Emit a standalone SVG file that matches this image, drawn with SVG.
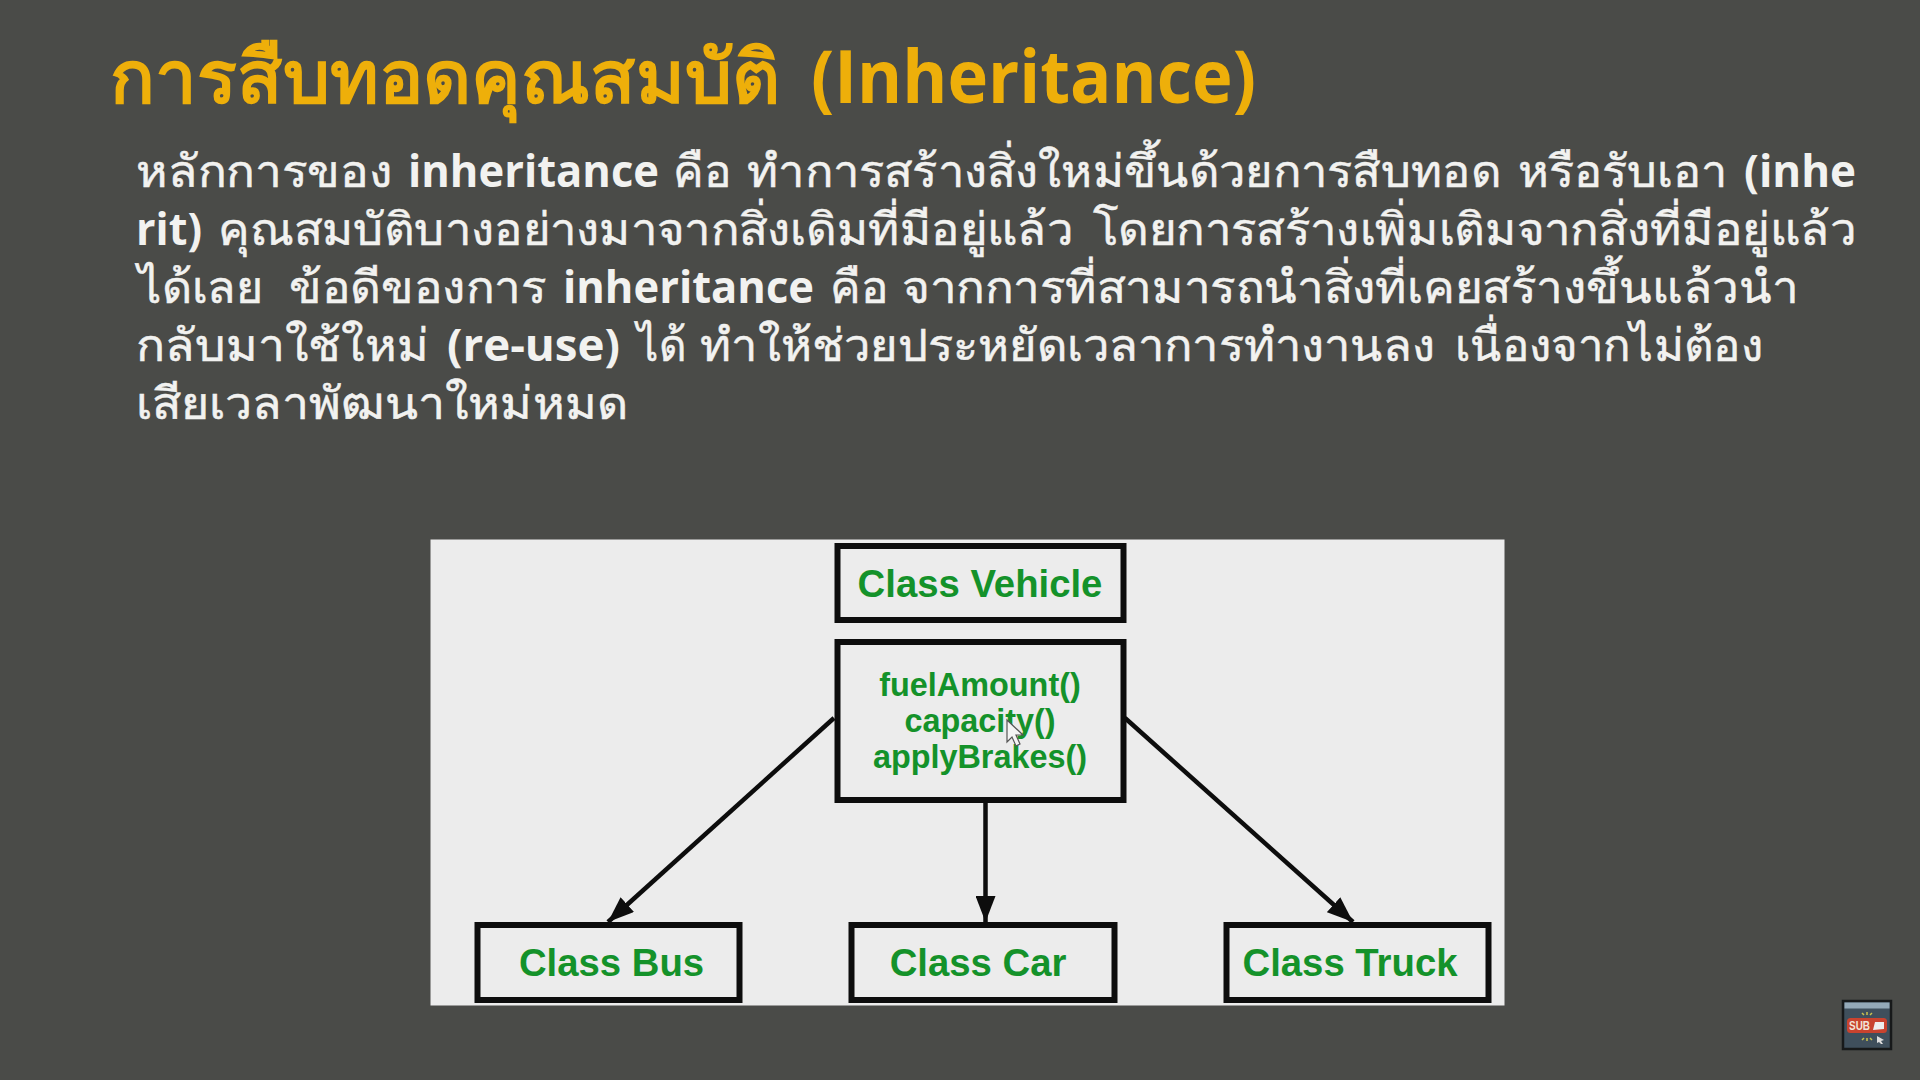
<svg xmlns="http://www.w3.org/2000/svg" width="1920" height="1080" viewBox="0 0 1920 1080">
<defs>
<marker id="arrow" markerUnits="userSpaceOnUse" markerWidth="26" markerHeight="20" refX="26" refY="10" viewBox="0 0 26 20" orient="auto"><path d="M0 0 L26 10 L0 20 Z" fill="#0d0d0d"/></marker>
</defs>
<style>
.title{font-family:"Open Sans","Noto Sans",sans-serif;font-weight:700;font-size:74px;fill:#eeaf0a}
.body{font-family:"Open Sans","Noto Sans",sans-serif;font-size:45px;fill:#f2f2f0;stroke:#f2f2f0;stroke-width:.5}
.b{font-weight:700;stroke:none}
.box{fill:#ececec;stroke:#0d0d0d;stroke-width:6}
.label{font-family:"Liberation Sans",Arial,sans-serif;font-weight:700;font-size:38.3px;fill:#14922a;text-anchor:middle}
.method{font-family:"Liberation Sans",Arial,sans-serif;font-weight:700;font-size:32.4px;fill:#14922a;text-anchor:middle}
.conn{stroke:#0d0d0d;stroke-width:4.5;fill:none;marker-end:url(#arrow)}
</style>
<rect width="1920" height="1080" fill="#4a4b48"/>
<g id="title">
<text class="title" x="110" y="103" textLength="670" lengthAdjust="spacingAndGlyphs">การสืบทอดคุณสมบัติ</text>
<text class="title" x="811" y="103" textLength="445" lengthAdjust="spacingAndGlyphs">(Inheritance)</text>
</g>
<g id="paragraph">
<text class="body" x="136" y="187" textLength="256" lengthAdjust="spacingAndGlyphs">หลักการของ</text>
<text class="body b" x="408" y="187" textLength="251" lengthAdjust="spacingAndGlyphs">inheritance</text>
<text class="body" x="673" y="187" textLength="58" lengthAdjust="spacingAndGlyphs">คือ</text>
<text class="body" x="747" y="187" textLength="754" lengthAdjust="spacingAndGlyphs">ทำการสร้างสิ่งใหม่ขึ้นด้วยการสืบทอด</text>
<text class="body" x="1518" y="187" textLength="209" lengthAdjust="spacingAndGlyphs">หรือรับเอา</text>
<text class="body b" x="1744" y="187" textLength="112" lengthAdjust="spacingAndGlyphs">(inhe</text>
<text class="body b" x="136" y="245" textLength="66" lengthAdjust="spacingAndGlyphs">rit)</text>
<text class="body" x="218" y="245" textLength="855" lengthAdjust="spacingAndGlyphs">คุณสมบัติบางอย่างมาจากสิ่งเดิมที่มีอยู่แล้ว</text>
<text class="body" x="1093" y="245" textLength="763" lengthAdjust="spacingAndGlyphs">โดยการสร้างเพิ่มเติมจากสิ่งที่มีอยู่แล้ว</text>
<text class="body" x="138" y="303" textLength="125" lengthAdjust="spacingAndGlyphs">ได้เลย</text>
<text class="body" x="289" y="303" textLength="257" lengthAdjust="spacingAndGlyphs">ข้อดีของการ</text>
<text class="body b" x="563" y="303" textLength="251" lengthAdjust="spacingAndGlyphs">inheritance</text>
<text class="body" x="830" y="303" textLength="58" lengthAdjust="spacingAndGlyphs">คือ</text>
<text class="body" x="902" y="303" textLength="896" lengthAdjust="spacingAndGlyphs">จากการที่สามารถนำสิ่งที่เคยสร้างขึ้นแล้วนำ</text>
<text class="body" x="136" y="361" textLength="293" lengthAdjust="spacingAndGlyphs">กลับมาใช้ใหม่</text>
<text class="body b" x="447" y="361" textLength="173" lengthAdjust="spacingAndGlyphs">(re-use)</text>
<text class="body" x="637" y="361" textLength="49" lengthAdjust="spacingAndGlyphs">ได้</text>
<text class="body" x="700" y="361" textLength="735" lengthAdjust="spacingAndGlyphs">ทำให้ช่วยประหยัดเวลาการทำงานลง</text>
<text class="body" x="1455" y="361" textLength="308" lengthAdjust="spacingAndGlyphs">เนื่องจากไม่ต้อง</text>
<text class="body" x="136" y="419" textLength="492" lengthAdjust="spacingAndGlyphs">เสียเวลาพัฒนาใหม่หมด</text>
</g>
<rect id="panel" x="430.5" y="539.5" width="1074" height="466" fill="#ececec"/>
<g id="connectors">
<line class="conn" x1="834" y1="718" x2="608" y2="922"/>
<line class="conn" x1="985.5" y1="803" x2="985.5" y2="922"/>
<line class="conn" x1="1125" y1="718" x2="1353" y2="922"/>
</g>
<g id="class-vehicle"><rect class="box" x="837.5" y="546" width="286" height="74"/><text class="label" x="980" y="597">Class Vehicle</text></g>
<g id="methods"><rect class="box" x="837.5" y="642" width="286" height="158"/><text class="method" x="980" y="695.5">fuelAmount()</text><text class="method" x="980" y="731.5">capacity()</text><text class="method" x="980" y="768">applyBrakes()</text></g>
<g id="class-bus"><rect class="box" x="477.5" y="925" width="262" height="75"/><text class="label" x="611.5" y="976">Class Bus</text></g>
<g id="class-car"><rect class="box" x="851.5" y="925" width="263" height="75"/><text class="label" x="978" y="976">Class Car</text></g>
<g id="class-truck"><rect class="box" x="1226.5" y="925" width="262" height="75"/><text class="label" x="1350" y="976">Class Truck</text></g>
<path id="cursor" d="M1007 720 L1007 742 L1012 737 L1016 746 L1020 744 L1016 735 L1023 735 Z" fill="#f4f4f4" stroke="#555" stroke-width="1.2"/>
<g id="subscribe-badge">
<rect x="1843" y="1001" width="48" height="48" fill="#3f4f5c" stroke="#17191a" stroke-width="2.5"/>
<rect x="1844.5" y="1002.5" width="45" height="6" fill="#94a9b8"/>
<rect x="1847" y="1018" width="40" height="15" rx="3.5" fill="#c8432f"/>
<text x="1849" y="1030" textLength="21" lengthAdjust="spacingAndGlyphs" font-family="Liberation Sans, sans-serif" font-weight="700" font-size="12" fill="#f2e4d8">SUB</text>
<path d="M1873 1030 L1875 1022 L1884 1022 L1884 1029 Z" fill="#eee"/>
<path d="M1877 1036 L1884 1040 L1881 1041 L1883 1044 L1881 1044 L1879 1042 L1877 1043 Z" fill="#ddd"/>
<path d="M1862 1013 l2 2 M1867 1012 v3 M1872 1013 l-2 2 M1862 1040 l2 -2 M1867 1041 v-3 M1872 1040 l-2 -2" stroke="#c9c24e" stroke-width="1.5"/>
</g>
</svg>
